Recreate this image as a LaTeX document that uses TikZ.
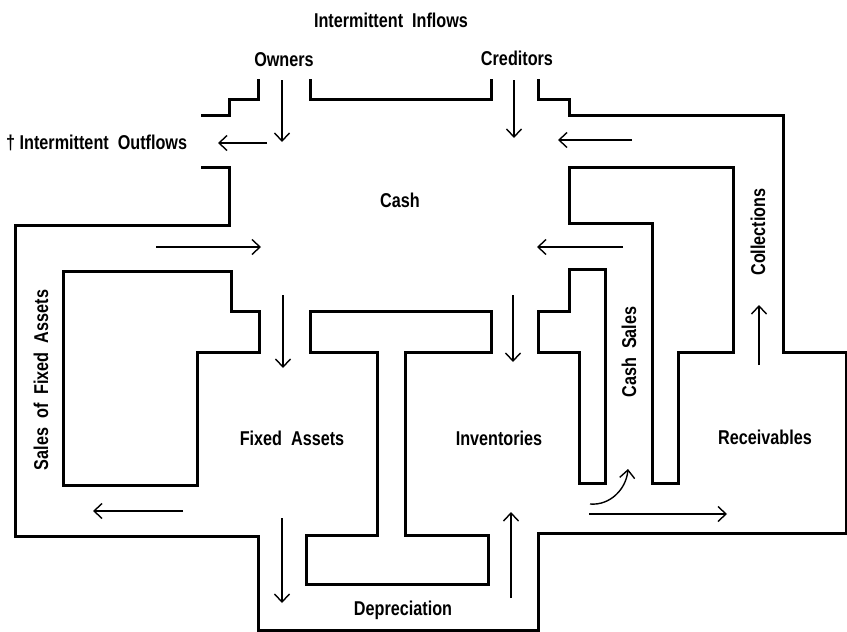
\documentclass[tikz,border=0pt]{standalone}
\usepackage{fontspec}
\setmainfont[FakeStretch=0.81]{Liberation Sans}
\usetikzlibrary{arrows.meta}
\begin{document}
\begin{tikzpicture}[x=1pt,y=-1pt,
  wall/.style={line width=3pt,line join=miter},
  flow/.style={line width=1.4pt,-{Straight Barb[length=8pt,width=15pt,line width=1.4pt]}},
  lbl/.style={font=\fontsize{20}{22}\selectfont\bfseries,inner sep=0pt}]
\useasboundingbox (0,0) rectangle (847,632);
% walls
\draw[wall] (258,79) -- (258,99) -- (229,99) -- (229,115) -- (201,115);
\draw[wall] (201,167) -- (229,167) -- (229,225) -- (15,225) -- (15,536) -- (258,536)
  -- (258,630) -- (538,630) -- (538,533) -- (846,533) -- (846,352) -- (783,352)
  -- (783,115) -- (569,115) -- (569,99) -- (538,99) -- (538,79);
\draw[wall] (310,79) -- (310,99) -- (491,99) -- (491,79);
\draw[wall] (63,271) -- (231,271) -- (231,311) -- (259,311) -- (259,352) -- (197,352)
  -- (197,485) -- (63,485) -- cycle;
\draw[wall] (310,311) -- (491,311) -- (491,352) -- (405,352) -- (405,535) -- (488,535)
  -- (488,584) -- (306,584) -- (306,535) -- (377,535) -- (377,352) -- (310,352) -- cycle;
\draw[wall] (569,269) -- (605,269) -- (605,483) -- (579,483) -- (579,352) -- (538,352)
  -- (538,311) -- (569,311) -- cycle;
\draw[wall] (569,167) -- (733,167) -- (733,352) -- (678,352) -- (678,483) -- (652,483)
  -- (652,223) -- (569,223) -- cycle;
% flows
\draw[flow] (282,80) -- (282,142);
\draw[flow] (514,80) -- (514,138);
\draw[flow] (267,143) -- (218,143);
\draw[flow] (632,140) -- (558,140);
\draw[flow] (156,247) -- (261,247);
\draw[flow] (623,247) -- (537,247);
\draw[flow] (283,295) -- (283,368);
\draw[flow] (513,295) -- (513,362);
\draw[flow] (759,365) -- (759,305);
\draw[flow] (183,511) -- (93,511);
\draw[flow] (282,518) -- (282,603);
\draw[flow] (511,598) -- (511,512);
\draw[flow] (589,514) -- (727,514);
\draw[flow] (590,504) to[out=-5,in=-95] (628,469);
% labels
\node[lbl] (inflows) at (391,20) {Intermittent\ \ Inflows};
\node[lbl] (owners) at (284,60) {Owners};
\node[lbl] (creditors) at (517,58) {Creditors};
\node[lbl,anchor=west] (outflows) at (6,143) {† Intermittent\ \ Outflows};
\node[lbl] (cash) at (400,200) {Cash};
\node[lbl,rotate=90] (salesfa) at (41,380) {Sales\ \ of\ \ Fixed\ \ Assets};
\node[lbl] (fixed) at (292,438) {Fixed\ \ Assets};
\node[lbl] (inv) at (499,438) {Inventories};
\node[lbl,rotate=90] (cashsales) at (629,352) {Cash\ \ Sales};
\node[lbl] (recv) at (765,437) {Receivables};
\node[lbl,rotate=90] (coll) at (758,232) {Collections};
\node[lbl] (dep) at (403,610) {Depreciation};
\end{tikzpicture}
\end{document}
